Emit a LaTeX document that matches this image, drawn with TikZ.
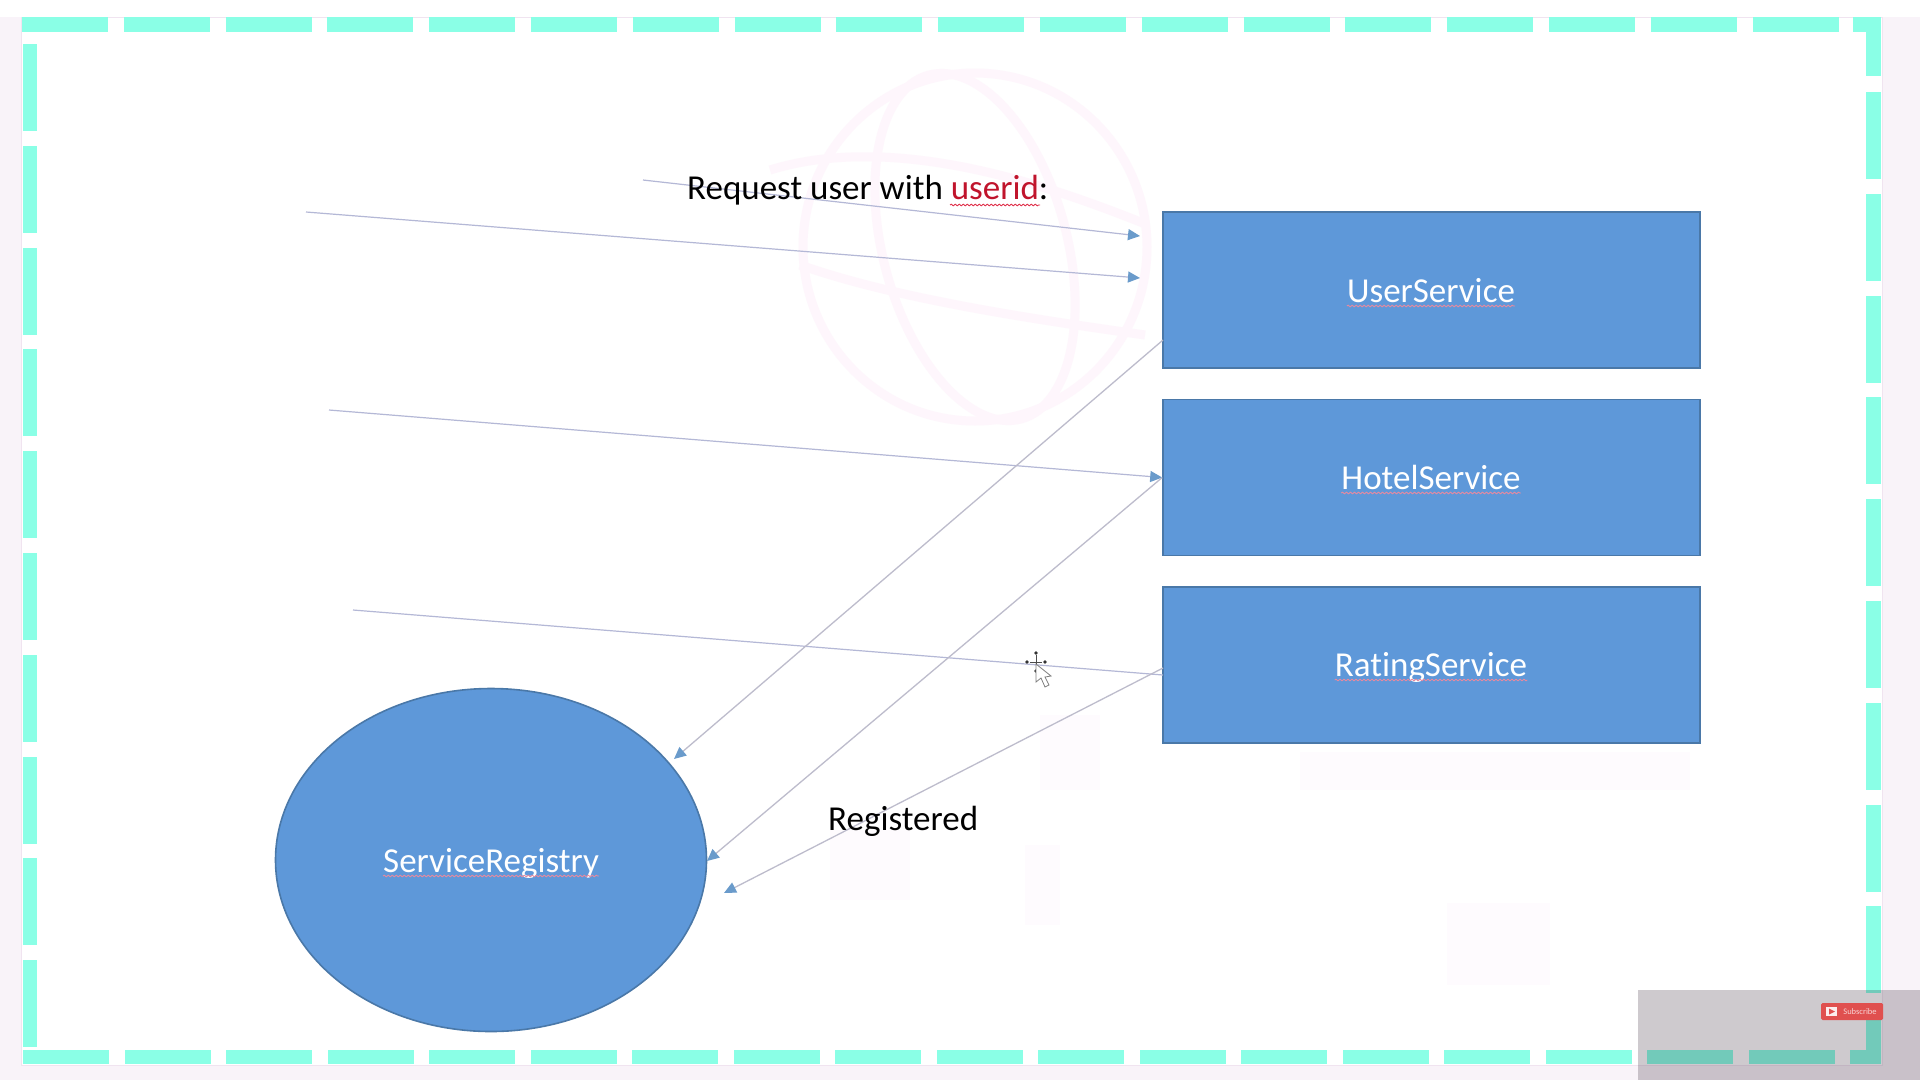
\documentclass[tikz,border=0pt]{standalone}
\usepackage{fontspec}
\setmainfont[Ligatures=NoCommon]{Carlito}
\usetikzlibrary{arrows.meta,calc,decorations.pathmorphing,shapes.geometric}
\definecolor{teal1}{HTML}{8AFFE6}
\definecolor{pagepale}{HTML}{F9F3F9}
\definecolor{frameline}{HTML}{F0E4F0}
\definecolor{wm}{HTML}{FEF6FC}
\definecolor{wm2}{HTML}{FEFBFE}
\definecolor{blue1}{HTML}{5E98D9}
\definecolor{edge1}{HTML}{4A78A8}
\definecolor{wire}{HTML}{B4B8D6}
\definecolor{wiregrey}{HTML}{BDBCCC}
\definecolor{tip1}{HTML}{6A9BCB}
\definecolor{redword}{HTML}{C0142C}
\definecolor{ytred}{HTML}{E0504F}
\definecolor{squigA}{HTML}{E58AA0}
\definecolor{squigB}{HTML}{E0304A}
\definecolor{veil}{HTML}{201020}
\tikzset{
  dashbar/.style={fill=teal1,draw=none},
  svc/.style={draw=edge1,line width=1.6pt,fill=blue1,minimum width=537pt,minimum height=156pt,inner sep=0pt},
  reg/.style={ellipse,draw=edge1,line width=1.6pt,fill=blue1,minimum width=431pt,minimum height=343pt,inner sep=0pt},
  lbl/.style={text=white,anchor=base,inner sep=0pt,font=\fontsize{35}{42}\selectfont},
  plain/.style={text=black,anchor=base west,inner sep=0pt,font=\fontsize{35}{42}\selectfont},
  wirearrow/.style={draw=wire,line width=1.2pt,-{Triangle[length=12pt,width=11pt,color=tip1]}},
  greyarrow/.style={draw=wiregrey,line width=1.3pt,-{Triangle[length=12pt,width=11pt,color=tip1]}},
  wireline/.style={draw=wire,line width=1.2pt},
  squig/.style={draw=#1,line width=.9pt,decorate,decoration={snake,amplitude=.8pt,segment length=4pt}},
  ghost/.style={draw=wm,line width=9pt},
}
\begin{document}
\begin{tikzpicture}[x=1pt,y=-1pt]
\useasboundingbox (0,0) rectangle (1920,1080);
% page and frame
\fill[pagepale] (0,0) rectangle (1920,1080);
\fill[white] (0,0) rectangle (1920,17);
\fill[white] (21,17) rectangle (1882,1065);
\draw[draw=frameline,line width=.8pt] (21,17) rectangle (1882,1065) ;
% faint watermark
\begin{scope}
\draw[ghost] (975,247) ellipse [x radius=172,y radius=174];
\draw[ghost,rotate around={15:(975,247)}] (975,247) ellipse [x radius=92,y radius=178];
\draw[ghost] (770,170) .. controls (900,130) and (1060,190) .. (1148,225);
\draw[ghost] (800,265) .. controls (900,300) and (1040,320) .. (1145,335);
\fill[wm2] (1447,903) rectangle (1550,985);
\fill[wm2] (1300,752) rectangle (1690,790);
\fill[wm2] (1040,715) rectangle (1100,790);
\fill[wm2] (1025,845) rectangle (1060,925);
\fill[wm2] (830,830) rectangle (910,900);
\end{scope}
% top dashes
\foreach \k in {0,...,17} \fill[dashbar] ({22+101.8*\k},17) rectangle ({108+101.8*\k},32);
\fill[dashbar] (1853,17) rectangle (1881,32);
% left dashes
\foreach \k in {0,...,9} \fill[dashbar] (23,{44+101.8*\k}) rectangle (37,{131+101.8*\k});
% right dashes
\fill[dashbar] (1866,32) rectangle (1881,76);
\foreach \k in {0,...,8} \fill[dashbar] (1866,{92+101.8*\k}) rectangle (1881,{179+101.8*\k});
\fill[dashbar] (1866,1008) rectangle (1881,1064);
% bottom dashes
\foreach \k in {0,...,17} \fill[dashbar] ({23+101.5*\k},1050) rectangle ({109+101.5*\k},1064);
\fill[dashbar] (1850,1050) rectangle (1881,1064);
% shapes
\node[svc] (user) at (1431.5,290) {};
\node[svc] (hotel) at (1431.5,477.5) {};
\node[svc] (rating) at (1431.5,665) {};
\node[reg] (registry) at (491,860) {};
% connector ends
\coordinate (a0) at (643,180);
\coordinate (a1) at (1140,236);
\coordinate (b0) at (306,212);
\coordinate (b1) at (1140,278);
\coordinate (c0) at (329,410);
\coordinate (d0) at (353,610);
\coordinate (d1) at (1163,675);
\coordinate (e0) at (1163,340);
\coordinate (e1) at (674,759);
\coordinate (f1) at (707,861);
\coordinate (g0) at (1163,668);
\coordinate (g1) at (724,893);
\draw[wirearrow] (a0) -- (a1);
\draw[wirearrow] (b0) -- (b1);
\draw[wirearrow] (c0) -- (hotel.west);
\draw[wireline] (d0) -- (d1);
\draw[greyarrow] (e0) -- (e1);
\draw[greyarrow] (hotel.west) -- (f1);
\draw[greyarrow] (g0) -- (g1);
% labels
\node[lbl] (tuser) at (1431,302) {UserService};
\node[lbl] (thotel) at (1431,489) {HotelService};
\node[lbl] (trating) at (1431,676) {RatingService};
\node[lbl] (treg) at (491,872) {ServiceRegistry};
\foreach \n in {tuser,thotel,trating,treg}
  \draw[squig=squigA] ($(\n.base west)+(0,4)$) -- ($(\n.base east)+(0,4)$);
\node[plain] (treq) at (687,199) {Request user with \textcolor{redword}{userid}:};
\node[plain] (tdone) at (828,830) {Registered};
\coordinate (u0) at (950,205);
\coordinate (u1) at (1040,205);
\draw[squig=squigB] (u0) -- (u1);
% cursor
\foreach \dx/\dy in {0/-9,-9/0,9/0,0/9}
  \fill[black!80] ($(1036,662)+(\dx,\dy)$) circle (1.8);
\draw[black!70,line width=.8pt] (1036,655) -- (1036,670) (1030,662) -- (1042,662);
\draw[draw=gray,fill=white,line width=.8pt] (1036,664) -- (1036,682) -- (1041,678) -- (1045,687) -- (1049,685) -- (1045,677) -- (1051,676) -- cycle;
% overlay
\fill[veil,opacity=.22] (1638,990) rectangle (1920,1080);
\fill[ytred,rounded corners=1.5pt] (1821,1003) rectangle (1883,1020);
\fill[white!90!ytred] (1826,1007) rectangle (1837,1016);
\fill[ytred] (1829,1008.5) -- (1835,1011.5) -- (1829,1014.5) -- cycle;
\node[text=white!75!ytred,inner sep=0pt,font=\fontsize{8.5}{10}\selectfont] (sub) at (1860,1011.5) {Subscribe};
\end{tikzpicture}
\end{document}
